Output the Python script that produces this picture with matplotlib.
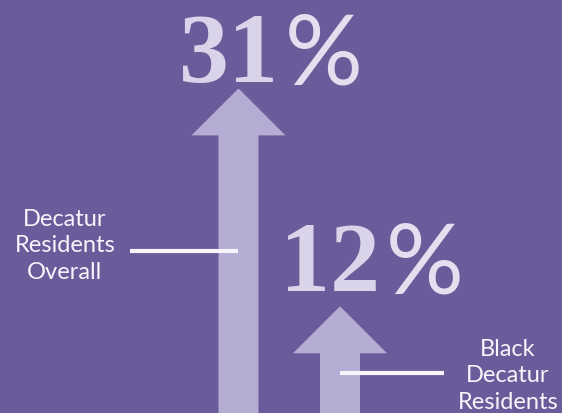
import matplotlib
matplotlib.use("Agg")
import matplotlib.pyplot as plt
from matplotlib.patches import Polygon

# ---- data ----
categories = ["Decatur\nResidents\nOverall", "Black\nDecatur\nResidents"]
values = [31, 12]
value_labels = ["31", "12"]

# ---- style ----
BG = "#6a5b9a"
ARROW = "#b5acd3"
DIGIT = "#d9d4e9"
PCT = "#e3dfef"
WHITE = "#f7f5fb"

W, H = 562, 414
fig = plt.figure(figsize=(W / 100, H / 100), dpi=100)
fig.patch.set_facecolor(BG)
ax = fig.add_axes([0, 0, 1, 1])
ax.set_facecolor(BG)
ax.axis("off")
ax.set_xlim(0, W)
# y in data units (percent); pixel scale chosen so arrows fit frame
px_per_unit = 11.47
y_bottom = 2.7
ax.set_ylim(y_bottom, y_bottom + H / px_per_unit)

x_centers = [238.5, 340.0]
shaft_w = 40
head_w = 94
head_h = 47 / px_per_unit

for xc, v in zip(x_centers, values):
    pts = [
        (xc - shaft_w / 2, y_bottom - 1),
        (xc - shaft_w / 2, v - head_h),
        (xc - head_w / 2, v - head_h),
        (xc, v),
        (xc + head_w / 2, v - head_h),
        (xc + shaft_w / 2, v - head_h),
        (xc + shaft_w / 2, y_bottom - 1),
    ]
    ax.add_patch(Polygon(pts, closed=True, facecolor=ARROW, edgecolor="none"))

# value labels
label_offsets = [7, 16]  # pixels above arrow tip (baseline)
for xc, v, lab, off in zip(x_centers, values, value_labels, label_offsets):
    yb = v + off / px_per_unit
    ax.text(xc + 40, yb, lab, ha="right", va="baseline", fontsize=72,
            fontfamily="Liberation Serif", fontweight="bold", color=DIGIT)
    ax.text(xc + 46, yb - 2 / px_per_unit, "%", ha="left", va="baseline", fontsize=70,
            fontfamily="Lato", color=PCT)

# category labels with connector lines (pixel coordinates overlay)
ov = fig.add_axes([0, 0, 1, 1], facecolor="none")
ov.axis("off")
ov.set_xlim(0, W)
ov.set_ylim(H, 0)

ov.text(65, 246, categories[0], ha="center", va="center", fontsize=17,
        fontfamily="Lato", color=WHITE, linespacing=1.32)
ov.plot([130, 238], [252, 252], color=WHITE, lw=3, solid_capstyle="butt")

ov.text(508, 376, categories[1], ha="center", va="center", fontsize=17,
        fontfamily="Lato", color=WHITE, linespacing=1.32)
ov.plot([340, 444], [374, 374], color=WHITE, lw=3, solid_capstyle="butt")

fig.savefig("out.png", dpi=100, facecolor=BG)
